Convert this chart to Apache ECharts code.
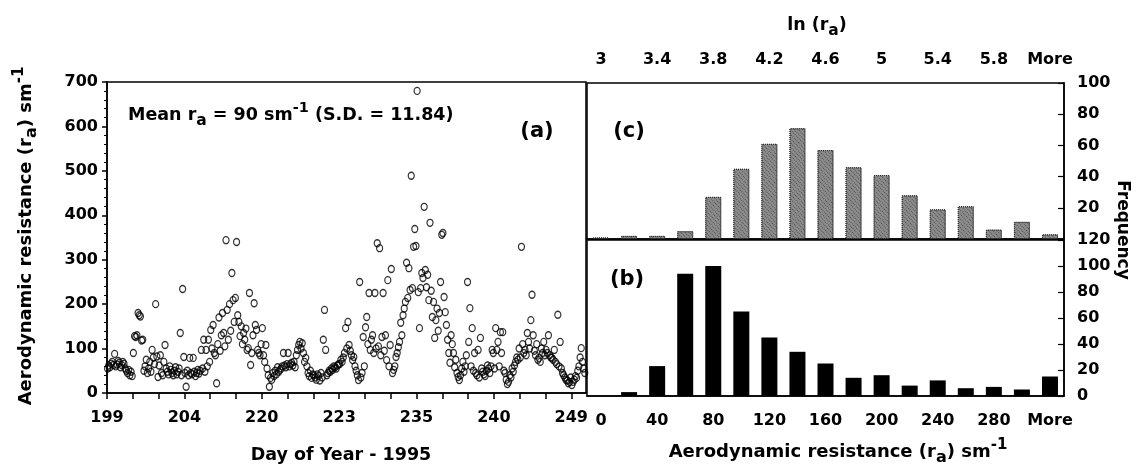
<!doctype html>
<html>
<head>
<meta charset="utf-8">
<script src="https://cdn.jsdelivr.net/npm/echarts/dist/echarts.min.js"></script>
<style>
  html, body { margin: 0; padding: 0; background: #fff; }
  #main { width: 1139px; height: 472px; }
</style>
</head>
<body>
<div id="main"></div>
<script type="text/javascript">
// day-of-year labels, one every third tick of panel (a)
var dayLabels = ['199', '204', '220', '223', '235', '240', '249'];

// aerodynamic resistance (sm-1), one tick interval at a time
var raSeg0  = [55, 62, 58, 66, 70, 63, 88, 60, 64, 72, 68, 58, 63, 70, 66, 55, 50, 45, 52, 40, 48, 38];
var raSeg1  = [90, 128, 126, 130, 180, 175, 172, 118, 120, 50, 60, 75, 45, 55, 70, 48, 97, 80, 65, 200, 82, 36];
var raSeg2  = [62, 85, 45, 40, 70, 108, 55, 48, 42, 60, 52, 45, 40, 50, 58, 42, 48, 55, 135, 40, 234, 81];
var raSeg3  = [45, 14, 50, 40, 79, 45, 42, 79, 48, 38, 45, 52, 44, 50, 97, 55, 120, 48, 97, 60, 120, 70];
var raSeg4  = [142, 100, 153, 90, 85, 22, 110, 170, 95, 130, 180, 135, 105, 344, 187, 120, 200, 140, 270, 209, 160, 214];
var raSeg5  = [340, 175, 160, 128, 150, 110, 135, 120, 145, 97, 101, 225, 63, 90, 130, 202, 153, 142, 97, 90, 85, 110];
var raSeg6  = [146, 85, 70, 108, 55, 40, 14, 34, 30, 45, 38, 50, 42, 58, 48, 52, 55, 60, 90, 62, 58, 65];
var raSeg7  = [90, 60, 65, 68, 62, 70, 58, 85, 97, 108, 115, 100, 112, 90, 70, 79, 60, 45, 38, 50, 34, 42];
var raSeg8  = [40, 35, 30, 42, 38, 28, 45, 35, 120, 187, 97, 40, 45, 50, 48, 55, 52, 60, 58, 55, 62, 65];
var raSeg9  = [65, 75, 70, 80, 90, 146, 100, 160, 108, 95, 85, 74, 81, 60, 50, 40, 29, 250, 35, 45, 126, 60];
var raSeg10 = [148, 171, 110, 225, 97, 120, 130, 90, 225, 100, 337, 105, 326, 85, 126, 225, 95, 130, 74, 254, 60, 108];
var raSeg11 = [279, 45, 52, 60, 81, 90, 103, 115, 158, 130, 175, 190, 205, 293, 214, 281, 232, 489, 236, 329, 369, 331];
var raSeg12 = [680, 227, 146, 236, 270, 259, 419, 277, 238, 266, 209, 383, 230, 171, 205, 124, 164, 190, 140, 180, 250, 356];
var raSeg13 = [360, 216, 182, 153, 120, 90, 68, 130, 110, 90, 58, 75, 45, 36, 29, 40, 55, 70, 48, 60, 85, 250];
var raSeg14 = [115, 191, 60, 146, 50, 90, 45, 40, 97, 35, 124, 55, 48, 42, 38, 50, 62, 55, 45, 60, 97, 90];
var raSeg15 = [55, 146, 97, 115, 60, 137, 90, 137, 50, 45, 30, 20, 25, 40, 35, 55, 48, 62, 70, 80, 75, 100];
var raSeg16 = [80, 329, 110, 90, 97, 85, 135, 115, 100, 164, 221, 130, 95, 85, 110, 75, 79, 70, 100, 90, 115, 85];
var raSeg17 = [97, 90, 130, 85, 80, 79, 75, 97, 70, 65, 176, 60, 115, 55, 45, 40, 35, 30, 28, 22, 25, 35];
var raSeg18 = [18, 25, 30, 38, 34, 50, 60, 80, 101, 70, 55, 45];

// histogram (b): r_a bins
var raBins = ['0', '20', '40', '60', '80', '100', '120', '140', '160', '180', '200', '220', '240', '260', '280', '300', 'More'];
var raFreq = [0, 3, 23, 94, 100, 65, 45, 34, 25, 14, 16, 8, 12, 6, 7, 5, 15];

// histogram (c): ln(r_a) bins
var lnBins = ['3', '3.2', '3.4', '3.6', '3.8', '4', '4.2', '4.4', '4.6', '4.8', '5', '5.2', '5.4', '5.6', '5.8', '6', 'More'];
var lnFreq = [1, 2, 2, 5, 27, 45, 61, 71, 57, 46, 41, 28, 19, 21, 6, 11, 3];

var segs = [raSeg0, raSeg1, raSeg2, raSeg3, raSeg4, raSeg5, raSeg6, raSeg7, raSeg8, raSeg9,
            raSeg10, raSeg11, raSeg12, raSeg13, raSeg14, raSeg15, raSeg16, raSeg17, raSeg18];
var points = [];
segs.forEach(function (s, k) {
    s.forEach(function (v, i) {
        points.push([k + (i + 0.5) / 22, v]);
    });
});

var FONT = 'DejaVu Sans';
var lab = { color: '#000', fontFamily: FONT, fontWeight: 'bold', fontSize: 16 };
var blk = { lineStyle: { color: '#000', width: 1.5 } };

function richTxt(size) {
    return {
        t: { fontFamily: FONT, fontWeight: 'bold', fontSize: size, lineHeight: 28, verticalAlign: 'middle', fill: '#000' },
        sub: { fontFamily: FONT, fontWeight: 'bold', fontSize: size - 2, lineHeight: 12, verticalAlign: 'bottom', fill: '#000' },
        sup: { fontFamily: FONT, fontWeight: 'bold', fontSize: size - 3, lineHeight: 12, verticalAlign: 'top', fill: '#000' }
    };
}
var raTitle = '{t|Aerodynamic resistance (r}{sub|a}{t|) sm}{sup|-1}';

var myChart = echarts.init(document.getElementById('main'), null, { renderer: 'canvas' });
var option = {
    backgroundColor: '#fff',
    animation: false,
    grid: [
        { left: 107, top: 82, width: 479, height: 311, show: true, borderColor: '#000', borderWidth: 1.5 },
        { left: 587, top: 83, width: 477, height: 156, show: true, borderColor: '#000', borderWidth: 1.5 },
        { left: 587, top: 240, width: 477, height: 156, show: true, borderColor: '#000', borderWidth: 1.5 }
    ],
    xAxis: [
        {
            gridIndex: 0, type: 'value', min: 0, max: 18.57, interval: 1,
            axisLine: blk, splitLine: { show: false },
            axisTick: { length: 6, lineStyle: { color: '#000', width: 1.5 } },
            axisLabel: Object.assign({ margin: 17, showMaxLabel: false, formatter: function (v) {
                var k = Math.round(v);
                if (Math.abs(v - k) > 1e-6 || k % 3) return '';
                return dayLabels[k / 3] || '';
            } }, lab)
        },
        {
            gridIndex: 1, type: 'category', position: 'top', data: lnBins,
            axisLine: blk, splitLine: { show: false },
            axisTick: { inside: true, length: 6, interval: 0, lineStyle: { color: '#000', width: 1.2 } },
            axisLabel: Object.assign({ interval: 1, margin: 15 }, lab)
        },
        {
            gridIndex: 2, type: 'category', position: 'bottom', data: raBins,
            axisLine: blk, splitLine: { show: false },
            axisTick: { length: 6, interval: 0, lineStyle: { color: '#000', width: 1.2 } },
            axisLabel: Object.assign({ interval: 1, margin: 17 }, lab)
        }
    ],
    yAxis: [
        {
            gridIndex: 0, type: 'value', min: 0, max: 700, interval: 100,
            axisLine: { show: true, lineStyle: { color: '#000', width: 1.5 } }, splitLine: { show: false },
            axisTick: { show: true, length: 5, lineStyle: { color: '#000', width: 1.5 } },
            minorTick: { show: true, splitNumber: 5, length: 3, lineStyle: { color: '#000' } },
            axisLabel: Object.assign({ margin: 9 }, lab)
        },
        {
            gridIndex: 1, type: 'value', position: 'right', min: 0, max: 100, interval: 20,
            axisLine: { show: true, lineStyle: { color: '#000', width: 1.5 } }, splitLine: { show: false },
            axisTick: { show: true, inside: true, length: 6, lineStyle: { color: '#000', width: 1.2 } },
            axisLabel: Object.assign({ margin: 13, formatter: function (v) { return v === 0 ? '' : v; } }, lab)
        },
        {
            gridIndex: 2, type: 'value', position: 'right', min: 0, max: 120, interval: 20,
            axisLine: { show: true, lineStyle: { color: '#000', width: 1.5 } }, splitLine: { show: false },
            axisTick: { show: true, inside: true, length: 6, lineStyle: { color: '#000', width: 1.2 } },
            axisLabel: Object.assign({ margin: 13 }, lab)
        }
    ],
    series: [
        {
            type: 'scatter', xAxisIndex: 0, yAxisIndex: 0, data: points,
            symbol: 'circle', symbolSize: [6, 7],
            itemStyle: { color: 'rgba(0,0,0,0)', borderColor: '#000', borderWidth: 1.3 }
        },
        {
            type: 'bar', xAxisIndex: 1, yAxisIndex: 1, data: lnFreq, barWidth: 16,
            itemStyle: {
                color: '#8c8c8c', borderColor: '#2a2a2a', borderWidth: 1, borderType: 'dotted',
                decal: { symbol: 'rect', symbolSize: 1, dashArrayX: [1, 1], dashArrayY: [1, 2], rotation: 0.8, color: 'rgba(30,30,30,0.55)' }
            }
        },
        {
            type: 'bar', xAxisIndex: 2, yAxisIndex: 2, data: raFreq, barWidth: 16,
            itemStyle: { color: '#000' }
        }
    ],
    graphic: [
        { type: 'text', x: 26, y: 236, rotation: Math.PI / 2,
          style: { text: raTitle, rich: richTxt(18), align: 'center', verticalAlign: 'middle' } },
        { type: 'text', x: 341, y: 455,
          style: { text: 'Day of Year - 1995', fontFamily: FONT, fontWeight: 'bold', fontSize: 17.5, fill: '#000', align: 'center', verticalAlign: 'middle' } },
        { type: 'text', x: 838, y: 452,
          style: { text: raTitle, rich: richTxt(18), align: 'center', verticalAlign: 'middle' } },
        { type: 'text', x: 817, y: 25,
          style: { text: '{t|ln (r}{sub|a}{t|)}', rich: richTxt(17.5), align: 'center', verticalAlign: 'middle' } },
        { type: 'text', x: 1122, y: 230, rotation: -Math.PI / 2,
          style: { text: 'Frequency', fontFamily: FONT, fontWeight: 'bold', fontSize: 17, fill: '#000', align: 'center', verticalAlign: 'middle' } },
        { type: 'text', x: 128, y: 115,
          style: { text: '{t|Mean r}{sub|a}{t| = 90 sm}{sup|-1}{t| (S.D. = 11.84)}', rich: richTxt(17.5), align: 'left', verticalAlign: 'middle' } },
        { type: 'text', x: 537, y: 132,
          style: { text: '(a)', fontFamily: FONT, fontWeight: 'bold', fontSize: 21, fill: '#000', align: 'center', verticalAlign: 'middle' } },
        { type: 'text', x: 629, y: 132,
          style: { text: '(c)', fontFamily: FONT, fontWeight: 'bold', fontSize: 21, fill: '#000', align: 'center', verticalAlign: 'middle' } },
        { type: 'text', x: 627, y: 280,
          style: { text: '(b)', fontFamily: FONT, fontWeight: 'bold', fontSize: 21, fill: '#000', align: 'center', verticalAlign: 'middle' } }
    ]
};
myChart.setOption(option);
</script>
</body>
</html>
